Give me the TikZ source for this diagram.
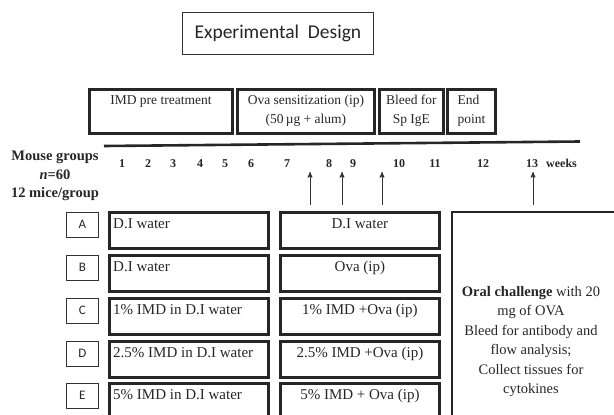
\documentclass[tikz,border=0pt]{standalone}
\usepackage{fontspec}
\setmainfont{Liberation Serif}
\newfontfamily\calibri{Carlito}
\usetikzlibrary{arrows}

\begin{document}
\begin{tikzpicture}
    [x=1pt, y=-1pt,
     >=stealth',
     every node/.style={text=black!85},
     thinbox/.style={draw=black!80, line width=.8pt, anchor=north west, inner sep=0pt},
     thickbox/.style={draw=black!85, line width=2.8pt, anchor=north west, inner sep=0pt},
     boxtext/.style={font=\fontsize{15}{18}\selectfont, inner sep=0pt},
    ]
    \clip (0, 0) rectangle (614, 415);
    \useasboundingbox (0, 0) rectangle (614, 415);

    % Title
    \node[thinbox, minimum width=191pt, minimum height=42pt]
        (title) at (182, 12) {\calibri\fontsize{19.5}{22}\selectfont Experimental\ \ Design};

    % Phases
    \foreach \ph / \xa / \xb / \txt / \al in
             {pre/88/231/IMD pre treatment/center,
              sens/236/373/{Ova sensitization (ip)\\(50\,\textmu g + alum)}/center,
              ige/378/442/{Bleed for\\Sp IgE}/center,
              endp/446/494/{End\\point}/left} {
        \node[thickbox, minimum width={\xb-\xa}, minimum height=44pt] (\ph) at (\xa, 88) {};
        \node[anchor=north, align=\al, inner sep=0pt,
              font=\fontsize{13.5}{19}\selectfont] (\ph t) at ([yshift=-7pt]\ph.north) {\txt};
    }

    % Time line
    \coordinate (tl1) at (104, 146);
    \coordinate (tl2) at (580, 141.5);
    \draw[line width=2.6pt, black!85] (tl1) -- (tl2);

    \node[anchor=north, align=center, inner sep=0pt,
          font=\bfseries\fontsize{14.5}{18.5}\selectfont]
        (mice) at (55, 151) {Mouse groups\\\textit{n}=60\\12 mice/group};

    \foreach \wk / \wx in {1/122, 2/148, 3/173, 4/200, 5/225, 6/251, 7/287,
                           8/329, 9/353, 10/399, 11/435, 12/483, 13/532} {
        \node[anchor=base, inner sep=0pt, font=\bfseries\fontsize{12}{14}\selectfont]
            (wk\wk) at (\wx, 167) {\wk};
    }
    \node[anchor=base west, inner sep=0pt, font=\bfseries\fontsize{12}{14}\selectfont]
        (weeks) at (546, 167) {weeks};

    % Injections and challenge
    \foreach \ax [count=\ai] in {310, 342, 382, 533} {
        \coordinate (arr\ai a) at (\ax, 205);
        \coordinate (arr\ai b) at (\ax, 172);
        \draw[->, line width=1pt, black!80] (arr\ai a) -- (arr\ai b);
    }

    % Groups
    \foreach \grp / \ya / \lt / \rt in
             {A/211/D.I water/D.I water,
              B/254/D.I water/Ova (ip),
              C/297/1\% IMD in D.I water/1\% IMD +Ova (ip),
              D/340/2.5\% IMD in D.I water/2.5\% IMD +Ova (ip),
              E/382/5\% IMD in D.I water/5\% IMD + Ova (ip)} {
        \node[thinbox, minimum width=32pt, minimum height=25pt]
            (lab\grp) at (66, \ya+.5) {\calibri\fontsize{13}{15}\selectfont \grp};
        \node[thickbox, minimum width=159pt, minimum height=36pt] (pre\grp) at (108, \ya) {};
        \node[boxtext, anchor=base west] (pre\grp t)
            at ([shift={(5, 17)}]pre\grp.north west) {\lt};
        \node[thickbox, minimum width=159pt, minimum height=36pt] (sens\grp) at (279, \ya) {};
        \node[boxtext, anchor=base] (sens\grp t)
            at ([yshift=-17pt]sens\grp.north) {\rt};
    }

    % Challenge box
    \node[draw=black!85, line width=2pt, anchor=north west, inner sep=0pt,
          minimum width=200pt, minimum height=230pt] (chal) at (451, 211) {};
    \node[anchor=north, align=center, inner sep=0pt,
          font=\fontsize{14.5}{19.5}\selectfont] (chalt) at (531, 286)
        {\textbf{Oral challenge} with 20\\mg of OVA\\Bleed for antibody and\\
         flow analysis;\\Collect tissues for\\cytokines};
\end{tikzpicture}
\end{document}
